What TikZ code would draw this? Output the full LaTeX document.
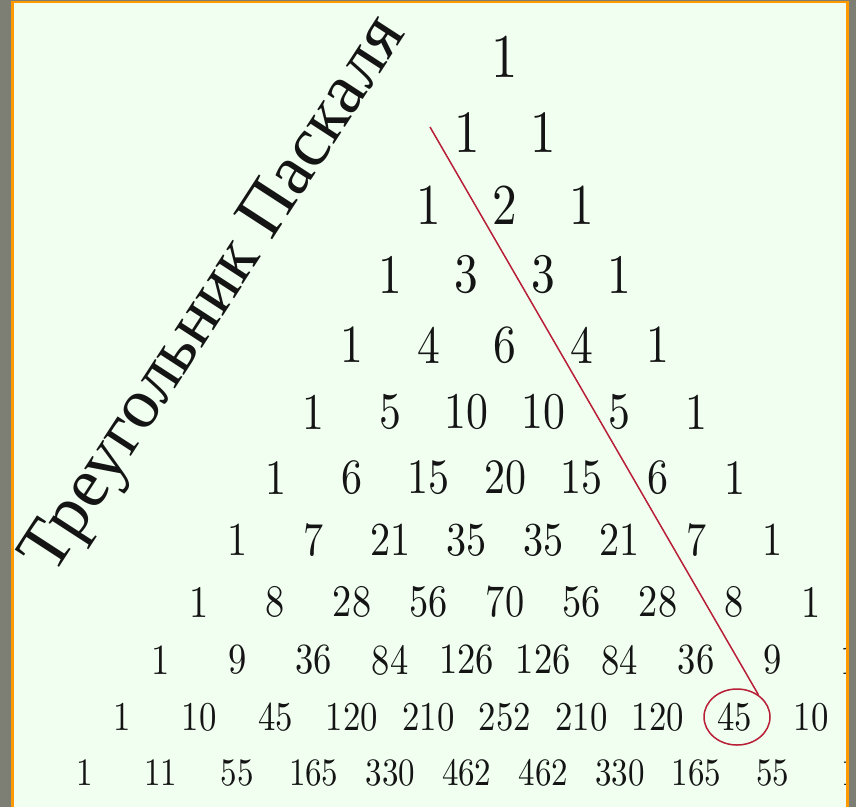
\documentclass[tikz,border=0pt]{standalone}
\usepackage{fontspec}
\newfontfamily\cyrfont{Liberation Serif}
\newfontfamily\numfont{lmroman10-regular}[Extension=.otf]
\usetikzlibrary{shapes.geometric}
\definecolor{frame}{RGB}{125,127,116}
\definecolor{edge}{RGB}{255,153,0}
\definecolor{panel}{RGB}{240,255,240}
\definecolor{mark}{RGB}{185,30,55}
\definecolor{ink}{RGB}{20,20,20}
\newcommand{\rowfont}[1]{\numfont\fontsize{#1pt}{#1pt}\selectfont}
\tikzset{
  num/.style={inner sep=0pt, text=ink},
  ring/.style={ellipse, draw=mark, line width=1.5pt, minimum width=66pt, minimum height=56pt, inner sep=0pt},
  link/.style={draw=mark, line width=1.5pt},
  title/.style={rotate=57, anchor=base, inner sep=0pt, text=ink, font=\cyrfont\fontsize{71pt}{71pt}\selectfont}
}
\begin{document}
\begin{tikzpicture}[x=1pt,y=-1pt]
\useasboundingbox (0,0) rectangle (856,807);
\fill[frame] (0,0) rectangle (856,807);
\fill[edge] (11,0.5) rectangle (848.5,807);
\fill[panel] (13.5,3) rectangle (845.5,807);
\begin{scope}
\clip (13.5,3) rectangle (845.5,807);
\foreach \r/\y/\lst in {
  0/57/{1},
  1/133/{1,1},
  2/205/{1,2,1},
  3/275/{1,3,3,1},
  4/345/{1,4,6,4,1},
  5/412/{1,5,10,10,5,1},
  6/478/{1,6,15,20,15,6,1},
  7/540/{1,7,21,35,35,21,7,1},
  8/602/{1,8,28,56,70,56,28,8,1},
  9/660/{1,9,36,84,126,126,84,36,9,1},
  10/717/{1,10,45,120,210,252,210,120,45,10},
  11/773/{1,11,55,165,330,462,462,330,165,55,1}}{
  \pgfmathsetmacro\fs{(41-1.4*\r)/0.66}
  \foreach \v [count=\k from 0] in \lst {
    \node[num, font={\rowfont{\fs}}] (n-\r-\k) at ({505+76.5*(\k-\r/2)},\y) {\scalebox{0.85}[1]{\v}};
  }
}
\end{scope}
\node[ring] (ring) at (737,717) {};
\coordinate (start) at (430,127);
\draw[link] (start) -- (ring.46);
\node[title] (head) at (230,305) {Треугольник Паскаля};
\end{tikzpicture}
\end{document}
